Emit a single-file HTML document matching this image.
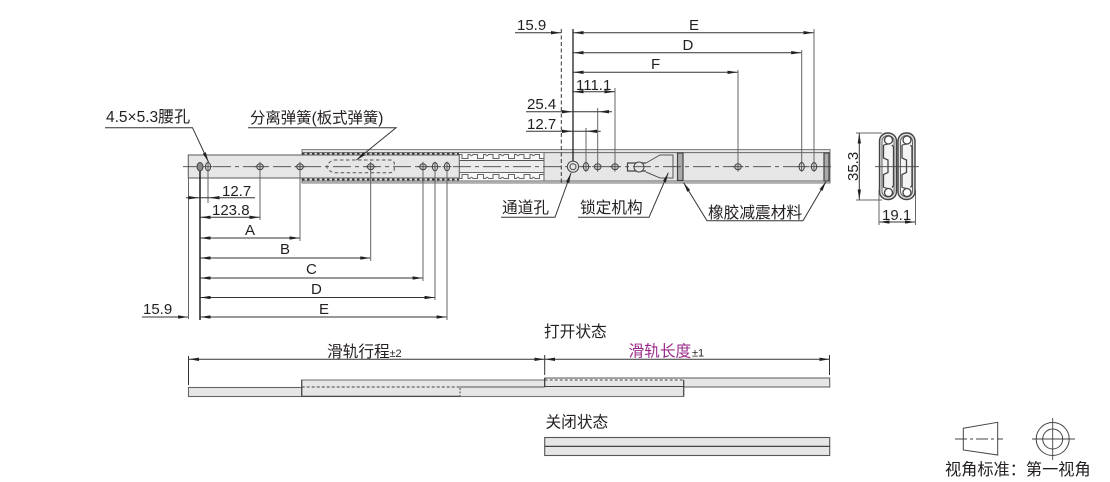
<!DOCTYPE html>
<html><head><meta charset="utf-8"><style>
html,body{margin:0;padding:0;background:#fff}
svg{display:block}
text{font-family:"Liberation Sans","Noto Sans CJK SC",sans-serif;font-size:15px;fill:#231f20}
.c{font-size:15.7px}
.d{stroke:#333;stroke-width:1;fill:none}
.a{stroke:#333;stroke-width:1;fill:none;marker-end:url(#ar)}
.b{stroke:#333;stroke-width:1;fill:none;marker-end:url(#ar);marker-start:url(#ar)}
.e{stroke:#666;stroke-width:1;fill:none}
</style></head><body>
<svg width="1110" height="482" viewBox="0 0 1110 482" xmlns="http://www.w3.org/2000/svg">
<defs>
<marker id="ar" markerUnits="userSpaceOnUse" viewBox="0 0 10 3.4" refX="10" refY="1.7" markerWidth="10" markerHeight="3.4" orient="auto-start-reverse"><path d="M0 0L10 1.7L0 3.4z" fill="#222"/></marker>
<pattern id="cageT" width="15.5" height="7" patternUnits="userSpaceOnUse" x="459" y="153"><path d="M0 1.5H3V5.5H9V1.5H11Q12.5 4 14 1.5H15.5" fill="none" stroke="#666" stroke-width="1"/></pattern>
<pattern id="cageB" width="15.5" height="7" patternUnits="userSpaceOnUse" x="459" y="173"><path d="M0 5.5H3V1.5H9V5.5H11Q12.5 3 14 5.5H15.5" fill="none" stroke="#666" stroke-width="1"/></pattern>
<g id="hole"><ellipse cx="0" cy="0" rx="2.6" ry="4.2" fill="#ddd" stroke="#444" stroke-width="1"/><path d="M-4.5 0H4.5M0 -5V5" stroke="#444" stroke-width=".8"/></g>
<g id="holeW"><ellipse cx="0" cy="0" rx="3.3" ry="3" fill="#ccc" stroke="#444" stroke-width="1"/><path d="M-5.5 0H5.5M0 -5V5" stroke="#444" stroke-width=".8"/></g>
<g id="prof" fill="none" stroke="#444">
<rect x="0" y="0" width="17" height="66.5" rx="8" fill="#ddd" stroke-width="1.4"/>
<rect x="2.5" y="2.5" width="12" height="61.5" rx="6" stroke-width="1" stroke="#666" fill="#f4f4f4"/>
<circle cx="9" cy="7" r="4" stroke-width="1.3" fill="#fff"/><circle cx="9" cy="59.5" r="4" stroke-width="1.3" fill="#fff"/>
<path d="M4 12V25L8.5 27V39.5L4 41.5V54.5" stroke-width="1.3"/>
<path d="M12.5 12L14 14V52.5L12.5 54.5" stroke-width="1.3"/>
<path d="M4 12L9 11M4 54.5L9 55.5" stroke-width="1"/>
</g>
</defs>

<!-- outer rail full -->
<rect x="302" y="149.6" width="528" height="33.4" fill="#e6e6e6" stroke="#777" stroke-width="1"/>
<path d="M302 152.6H830M302 181H830" stroke="#666" stroke-width="1"/>
<rect x="459" y="153.2" width="85" height="27.3" fill="#f8f8f8"/>
<!-- ball strips -->
<path d="M302 153.8H459M302 179.5H459" stroke="#333" stroke-width="1.8" stroke-dasharray="2.5 2.5"/>
<rect x="459" y="153.5" width="85" height="7" fill="url(#cageT)"/>
<rect x="459" y="173" width="85" height="7" fill="url(#cageB)"/>
<rect x="459" y="160.5" width="85" height="12" fill="#ececec"/>
<path d="M459 160.5H544M459 172.6H544" stroke="#555" stroke-width=".9"/>
<path d="M544 153V180.5" stroke="#666" stroke-width="1"/>
<!-- inner member -->
<rect x="188.3" y="155" width="271" height="23" fill="#e6e6e6" stroke="#666" stroke-width="1.1"/>

<!-- lock -->
<path d="M646 163L660 155H673V178H660L646 172" fill="none" stroke="#555" stroke-width="1"/>
<path d="M646 163H627.5V171H646" fill="none" stroke="#444" stroke-width="1.2"/>
<circle cx="639" cy="167" r="5" fill="#e6e6e6" stroke="#444" stroke-width="1"/>
<!-- rubber -->
<rect x="677.5" y="153" width="5.5" height="27.5" fill="#aaa" stroke="#444" stroke-width="1.2"/>
<rect x="824" y="153" width="5" height="28" fill="#aaa" stroke="#444" stroke-width="1.2"/>

<!-- center line -->
<path d="M183 166.7H835" stroke="#444" stroke-width=".9" stroke-dasharray="18 4 4 4" fill="none"/>

<!-- dashed spring slot -->
<path d="M334 160H390Q394.3 160 394.3 164V169Q394.3 172.7 390 172.7H334Q328 171 326.7 166.5Q328 162 334 160Z" fill="none" stroke="#555" stroke-width="1" stroke-dasharray="3.5 2.5"/>

<!-- holes -->
<ellipse cx="200" cy="166.7" rx="3" ry="4.2" fill="#888" stroke="#444"/>
<use href="#hole" x="208" y="166.7"/>
<use href="#holeW" x="260" y="166.7"/>
<use href="#holeW" x="300" y="166.7"/>
<use href="#holeW" x="370.7" y="166.7"/>
<use href="#holeW" x="423" y="166.7"/>
<use href="#hole" x="435" y="166.7"/>
<use href="#hole" x="447" y="166.7"/>
<circle cx="573" cy="166.7" r="5.6" fill="#e6e6e6" stroke="#444"/>
<circle cx="573" cy="166.7" r="3" fill="none" stroke="#444"/>
<use href="#hole" x="586" y="166.7"/>
<use href="#holeW" x="597.7" y="166.7"/>
<use href="#holeW" x="615" y="166.7"/>
<use href="#holeW" x="738" y="166.7"/>
<use href="#hole" x="801.7" y="166.7"/>
<use href="#hole" x="814" y="166.7"/>

<!-- lower-left extension lines -->
<path class="e" d="M188.5 178V319M208 171V203M260 171V220M300 171V241M370.7 171V261M423 171V281M435 171V300M447 171V320" stroke="#555"/>
<path d="M200 171V320" stroke="#222" stroke-width="1.5"/>
<!-- lower-left dims -->
<path class="d" d="M186 197.7H255"/>
<path d="M188.5 196L199 197.7L188.5 199.4zM209 197.7L219.5 196V199.4z" fill="#222"/>
<path class="b" d="M200.5 217.3H259.5"/>
<path class="b" d="M200.5 238H299.5"/>
<path class="b" d="M200.5 258H370.2"/>
<path class="b" d="M200.5 278H422.5"/>
<path class="b" d="M200.5 297.5H434.5"/>
<path class="b" d="M200.5 317H446.5"/>
<path class="a" d="M142 317H188"/>
<text x="222" y="196">12.7</text>
<text x="212" y="215">123.8</text>
<text x="245" y="235">A</text>
<text x="280" y="254">B</text>
<text x="306" y="274">C</text>
<text x="311" y="294">D</text>
<text x="319" y="314">E</text>
<text x="143" y="314">15.9</text>

<!-- upper-right dims -->
<path d="M561.3 29V183" stroke="#333" stroke-width="1" stroke-dasharray="4 2.5" fill="none"/>
<path d="M573 29V161" stroke="#222" stroke-width="1.3" fill="none"/>
<path class="e" d="M586 128V162M597.7 108V162M615 88V162M738 70V162M801.7 50V162M814 29V162"/>
<path class="a" d="M515 32.7H561"/>
<path class="b" d="M573.5 32.7H813.5"/>
<path class="b" d="M573.5 52.7H801.2"/>
<path class="b" d="M573.5 72.3H737.5"/>
<path class="b" d="M573.5 91.7H614.5"/>
<path class="d" d="M526 111.7H612M526 131.3H600.7"/>
<path d="M562 110L572.5 111.7L562 113.4zM598.5 111.7L609 110V113.4zM562 129.6L572.5 131.3L562 133zM586.5 131.3L597 129.6V133z" fill="#222"/>
<text x="517" y="30">15.9</text>
<text x="689" y="30">E</text>
<text x="682.5" y="50">D</text>
<text x="651" y="69">F</text>
<text x="576" y="90">111.1</text>
<text x="527" y="109">25.4</text>
<text x="527" y="129">12.7</text>

<!-- callouts -->
<text x="106" y="122" style="font-size:15.5px">4.5×5.3<tspan style="font-size:16px">腰孔</tspan></text>
<path class="a" d="M105 127.7H192.5L208.5 162"/>
<text x="250" y="123" style="font-size:15.4px">分离弹簧(板式弹簧)</text>
<path class="a" d="M248 127.7H396L356.5 160"/>
<text class="c" x="502" y="213">通道孔</text>
<path class="a" d="M501 217.3H555L571 173"/>
<text class="c" x="580" y="213">锁定机构</text>
<path class="a" d="M578 217.3H649L668.3 172.7"/>
<text class="c" x="708" y="218">橡胶减震材料</text>
<path class="d" d="M707 220.7H803"/>
<path class="a" d="M707 220.7L683.5 182.5"/>
<path class="a" d="M803 220.7L826 181.5"/>

<!-- section -->
<path class="e" d="M856 133H882M856 200H882M879 190V225M915.5 190V225"/>
<path class="b" d="M859.3 133.5V199.5"/>
<use href="#prof" x="879.5" y="133"/>
<use href="#prof" x="898" y="133"/>
<path d="M875 166.7H919" stroke="#444" stroke-width=".9"/>
<path class="b" d="M879.5 222H915"/>
<text transform="translate(858 181) rotate(-90)">35.3</text>
<text x="882" y="220">19.1</text>

<!-- open state -->
<text class="c" x="544" y="337">打开状态</text>
<text class="c" x="327" y="357">滑轨行程</text><text x="389.5" y="357" style="font-size:11px">±2</text>
<text class="c" x="628.5" y="356.5" style="fill:#9b2a8c">滑轨长度</text><text x="692" y="356.5" style="font-size:11px">±1</text>
<path d="M188.5 356V385M544.7 355V375M829.5 355V375" stroke="#333" stroke-width="1" fill="none"/>
<path class="b" d="M189 359.3H544.5"/>
<path class="b" d="M545 359.3H829.5"/>
<rect x="544.7" y="378" width="285" height="9" fill="#e6e6e6" stroke="#666" stroke-width="1.1"/>
<rect x="301.7" y="380" width="382" height="16.5" fill="#e6e6e6" stroke="#777" stroke-width="1.1"/>
<rect x="188.5" y="387.5" width="113.2" height="9" fill="#e6e6e6" stroke="#666" stroke-width="1.1"/>
<path d="M301.7 387H460" stroke="#444" stroke-width="1" stroke-dasharray="3 2"/>
<path d="M460 387H544.7" stroke="#555" stroke-width="1"/>
<path d="M544.7 380H683.7" stroke="#fff" stroke-width="1.6"/>
<path d="M544.7 380H683.7" stroke="#444" stroke-width="1" stroke-dasharray="3 2" fill="none"/>
<path d="M544.7 386.5H683.7" stroke="#444" stroke-width="1.1"/>
<path d="M683.7 380V396.5" stroke="#444" stroke-width="1.1"/>
<path d="M301.7 396.3H460" stroke="#444" stroke-width="1.2" fill="none"/>
<path d="M301.7 380V396.5" stroke="#444" stroke-width="1.1"/>
<path d="M460 388V396" stroke="#444" stroke-width="1" stroke-dasharray="2 1.5"/>
<path d="M544.7 378V387" stroke="#333" stroke-width="1.2"/>

<!-- closed state -->
<text class="c" x="545.5" y="427.5">关闭状态</text>
<rect x="544.7" y="437.5" width="285" height="18" fill="#e6e6e6" stroke="#555" stroke-width="1.1"/>
<path d="M544.7 446.4H829.7" stroke="#444" stroke-width="1.2"/>

<!-- first angle -->
<path d="M963.3 428.3L997.7 422.3V455L963.3 450Z" fill="none" stroke="#444" stroke-width="1"/>
<path d="M955 439H1003" stroke="#444" stroke-width=".9" stroke-dasharray="12 3 3 3" fill="none"/>
<circle cx="1052.7" cy="439" r="16.5" fill="none" stroke="#444"/>
<circle cx="1052.7" cy="439" r="10" fill="none" stroke="#444"/>
<path d="M1032 439H1075M1052.7 418V460" stroke="#444" stroke-width=".9"/>
<text x="945" y="475" style="font-size:16.2px">视角标准：第一视角</text>
</svg>
</body></html>
